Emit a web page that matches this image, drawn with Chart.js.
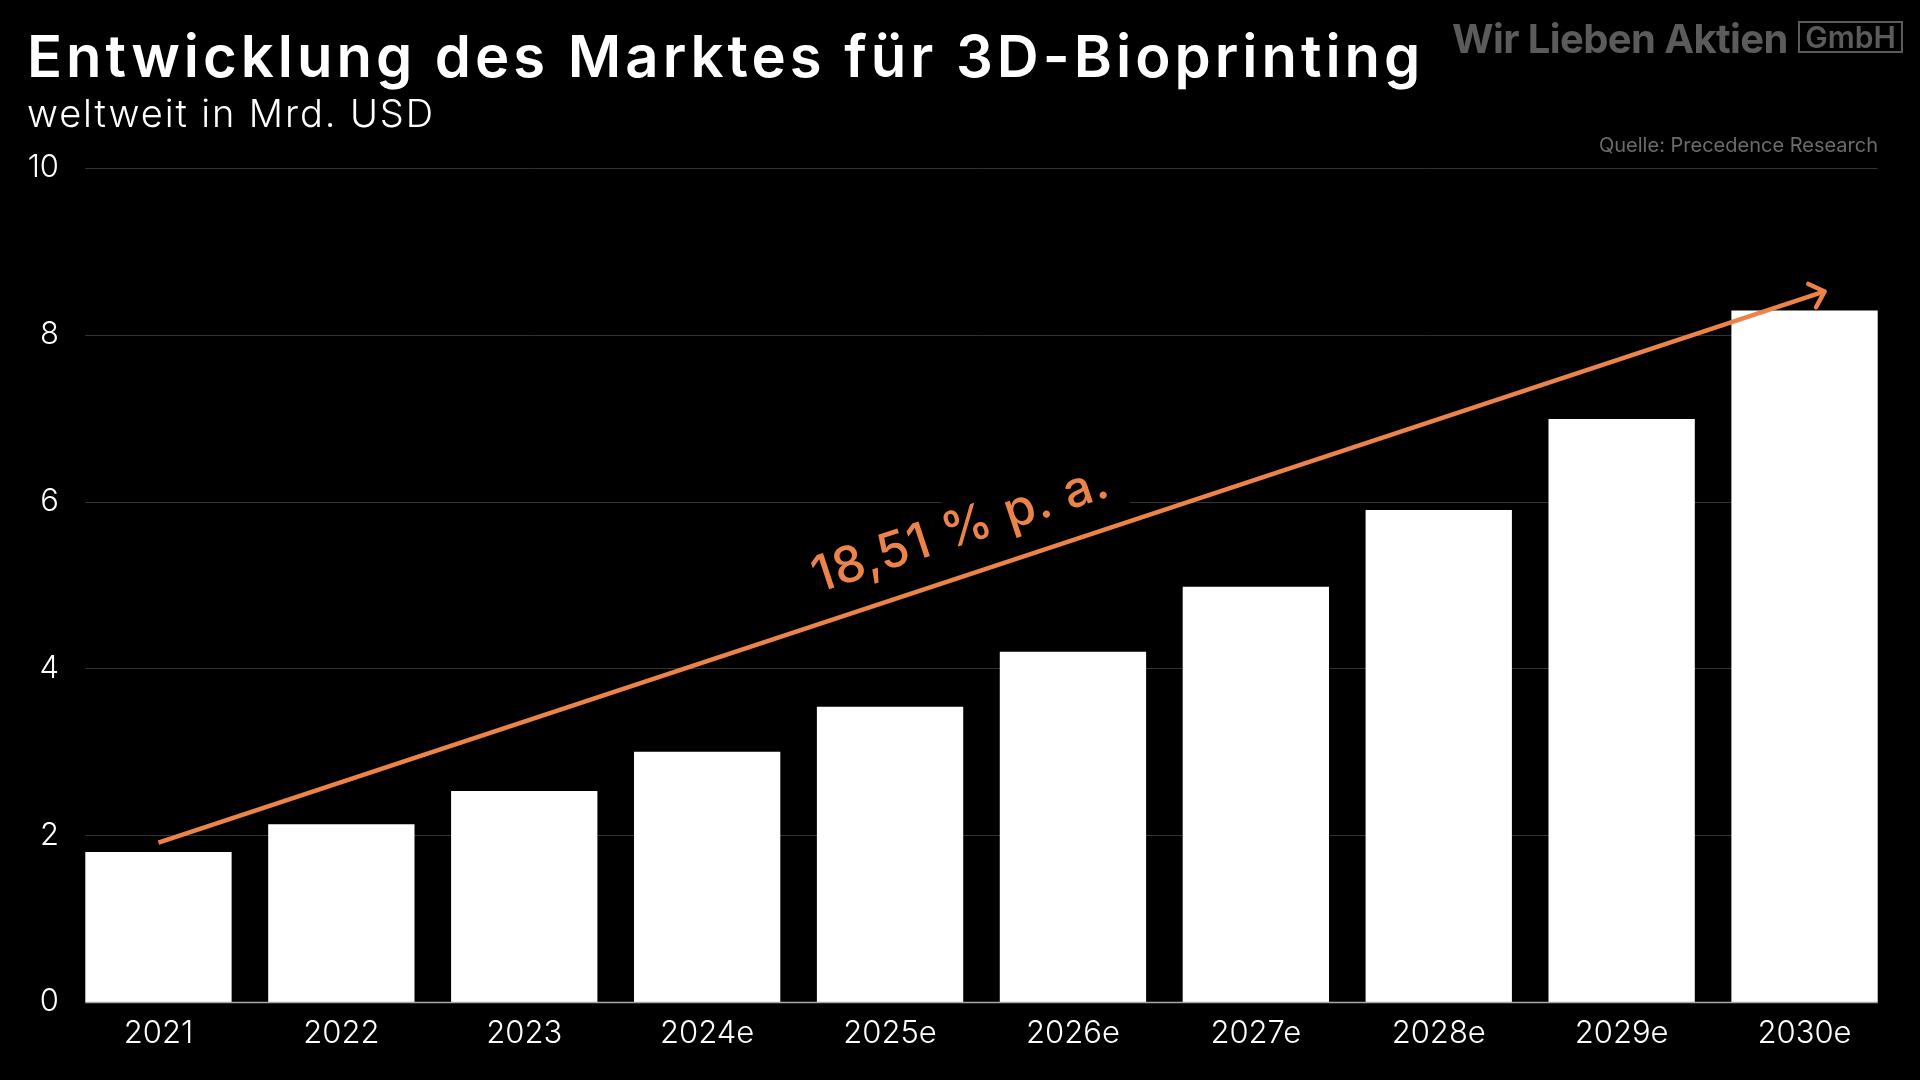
<!DOCTYPE html>
<html>
<head>
<meta charset="utf-8">
<script src="https://cdn.jsdelivr.net/npm/chart.js@4/dist/chart.umd.min.js"></script>
<style>
html, body { margin: 0; padding: 0; background: #000; }
#wrap { position: relative; width: 1920px; height: 1080px; overflow: hidden; font-family: 'Inter', sans-serif; }
#canvas { position: absolute; left: 0; top: 0; }
.txt { position: absolute; line-height: 1; white-space: nowrap; }
#title { left: 27px; top: 27px; color: #fff; font-size: 58px; font-weight: 600; letter-spacing: 4px; }
#subtitle { left: 27px; top: 94px; color: #fff; font-size: 38px; font-weight: 300; letter-spacing: 1.9px; }
#logo { left: 1452px; top: 19px; color: #5b5b5b; font-size: 40px; font-weight: 700; letter-spacing: -0.6px; }
#gmbh { left: 1798px; top: 21px; width: 101px; height: 28px; border: 2px solid #5b5b5b; color: #5b5b5b;
        font-size: 30px; font-weight: 600; text-align: center; line-height: 29px; }
#source { right: 42px; top: 135px; color: #6b6b6b; font-size: 20px; font-weight: 400; }
</style>
</head>
<body>
<div id="wrap">
  <canvas id="canvas" width="1920" height="1080"></canvas>
  <div class="txt" id="title">Entwicklung des Marktes für 3D-Bioprinting</div>
  <div class="txt" id="subtitle">weltweit in Mrd. USD</div>
  <div class="txt" id="logo">Wir Lieben Aktien</div>
  <div class="txt" id="gmbh">GmbH</div>
  <div class="txt" id="source">Quelle: Precedence Research</div>
</div>
<script>
'use strict';

const categories = ['2021', '2022', '2023', '2024e', '2025e', '2026e', '2027e', '2028e', '2029e', '2030e'];
const marketSize = [1.80, 2.13, 2.53, 3.00, 3.54, 4.20, 4.98, 5.90, 6.99, 8.29];
const yTicks = [0, 2, 4, 6, 8, 10];

// trend arrow, in data units (category index, value)
const trendFrom = [0, 1.91];
const trendTo = [9.11, 8.52];
const cagrLabel = '18,51 % p. a.';

const ORANGE = '#ec8449';

Chart.defaults.font.family = 'Inter';

// gridlines only span the bars, not the whole chart area
const gridPlugin = {
   id: 'barGrid',
   beforeDatasetsDraw(chart) {
      let ctx = chart.ctx;
      let y = chart.scales.y;
      let bars = chart.getDatasetMeta(0).data;
      let left = bars[0].x - bars[0].width / 2;
      let right = bars[bars.length - 1].x + bars[bars.length - 1].width / 2;
      ctx.save();
      ctx.lineWidth = 1;
      ctx.strokeStyle = '#343434';
      for (let v of yTicks) {
         if (v === 0) continue;
         let py = Math.round(y.getPixelForValue(v)) + 0.5;
         ctx.beginPath();
         ctx.moveTo(left, py);
         ctx.lineTo(right, py);
         ctx.stroke();
      }
      ctx.restore();
   },
   afterDatasetsDraw(chart) {
      let ctx = chart.ctx;
      let x = chart.scales.x;
      let y = chart.scales.y;
      let bars = chart.getDatasetMeta(0).data;
      let left = bars[0].x - bars[0].width / 2;
      let right = bars[bars.length - 1].x + bars[bars.length - 1].width / 2;

      // zero line
      ctx.save();
      let py0 = Math.round(y.getPixelForValue(0)) + 0.5;
      ctx.strokeStyle = '#a8a8a8';
      ctx.lineWidth = 1.5;
      ctx.beginPath();
      ctx.moveTo(left, py0);
      ctx.lineTo(right, py0);
      ctx.stroke();

      // trend arrow
      let x0 = x.getPixelForValue(trendFrom[0]);
      let y0 = y.getPixelForValue(trendFrom[1]);
      let x1 = x.getPixelForValue(trendTo[0]);
      let y1 = y.getPixelForValue(trendTo[1]);
      let ang = Math.atan2(y1 - y0, x1 - x0);

      ctx.strokeStyle = ORANGE;
      ctx.lineWidth = 4.5;
      ctx.lineCap = 'butt';
      ctx.beginPath();
      ctx.moveTo(x0, y0);
      ctx.lineTo(x1, y1);
      ctx.stroke();

      ctx.lineCap = 'round';
      ctx.lineJoin = 'round';
      let head = 18;
      ctx.beginPath();
      ctx.moveTo(x1 + Math.cos(ang + Math.PI - 0.75) * head, y1 + Math.sin(ang + Math.PI - 0.75) * head);
      ctx.lineTo(x1, y1);
      ctx.lineTo(x1 + Math.cos(ang + Math.PI + 0.75) * head, y1 + Math.sin(ang + Math.PI + 0.75) * head);
      ctx.stroke();

      // label along the arrow, on a black plate
      let t = 0.49;
      let mx = x0 + (x1 - x0) * t;
      let my = y0 + (y1 - y0) * t;
      let off = 45;
      let cx = mx + Math.sin(ang) * off;
      let cy = my - Math.cos(ang) * off;
      ctx.translate(cx, cy);
      ctx.rotate(ang);
      ctx.font = '500 50px Inter';
      ctx.letterSpacing = '1px';
      let w = ctx.measureText(cagrLabel).width;
      ctx.fillStyle = '#000';
      ctx.fillRect(-w / 2 - 14, -32, w + 28, 60);
      ctx.fillStyle = ORANGE;
      ctx.textAlign = 'center';
      ctx.textBaseline = 'middle';
      ctx.fillText(cagrLabel, 0, 0);
      ctx.restore();
   }
};

let ctx = document.querySelector('#canvas').getContext('2d');
let chart = new Chart(ctx, {
   type: 'bar',
   data: {
      labels: categories,
      datasets: [{
         data: marketSize,
         backgroundColor: '#ffffff',
         barPercentage: 0.8,
         categoryPercentage: 1.0
      }]
   },
   options: {
      responsive: false,
      animation: false,
      layout: {padding: {top: 168, right: 24, left: 0, bottom: 0}},
      plugins: {legend: {display: false}, tooltip: {enabled: false}},
      scales: {
         x: {
            grid: {display: false},
            border: {display: false},
            ticks: {color: '#ffffff', font: {size: 31, weight: 300}, padding: 5},
            afterFit(scale) { scale.height = 78; }
         },
         y: {
            min: 0,
            max: 10,
            grid: {display: false},
            border: {display: false},
            ticks: {stepSize: 2, color: '#ffffff', font: {size: 31, weight: 300}, padding: 0},
            afterFit(scale) { scale.width = 67; }
         }
      }
   },
   plugins: [gridPlugin]
});
</script>
</body>
</html>
